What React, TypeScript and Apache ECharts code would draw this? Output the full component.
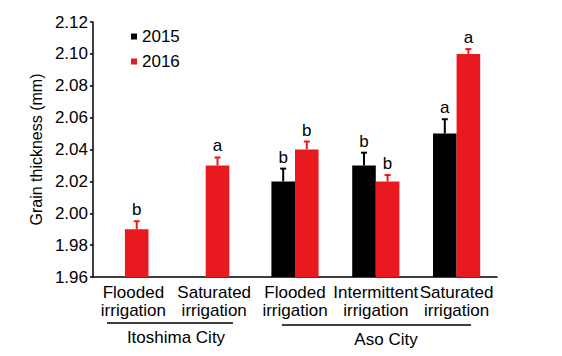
import React, { useEffect, useRef } from "react";
import * as echarts from "echarts";

const categories = [
  "Flooded\nirrigation",
  "Saturated\nirrigation",
  "Flooded\nirrigation",
  "Intermittent\nirrigation",
  "Saturated\nirrigation",
];
const values2015: (number | null)[] = [null, null, 2.02, 2.03, 2.05];
const errors2015: (number | null)[] = [null, null, 0.008, 0.008, 0.009];
const letters2015: (string | null)[] = [null, null, "b", "b", "a"];
const values2016 = [1.99, 2.03, 2.04, 2.02, 2.1];
const errors2016 = [0.005, 0.005, 0.005, 0.004, 0.003];
const letters2016 = ["b", "a", "b", "b", "a"];
const yTicks = { min: 1.96, max: 2.12, interval: 0.02 };

const FONT = "'Liberation Sans', Arial, sans-serif";
const RED = "#e8191f";
const BLACK = "#000000";

function makeRender(color: string, isFirst: boolean) {
  return (params: any, api: any) => {
    const idx = api.value(0);
    const v = api.value(1);
    const e = api.value(2);
    const letter = isFirst ? letters2015[idx] : letters2016[idx];
    const base = api.coord([idx, yTicks.min]);
    const top = api.coord([idx, v]);
    const errTop = api.coord([idx, v + e]);
    const bw = api.size([1, 0])[0];
    const barW = bw * 0.292;
    let left: number;
    if (isFirst) left = base[0] - barW;
    else if (values2015[idx] == null) left = base[0] - bw * 0.105;
    else left = base[0];
    const cx = left + barW / 2;
    return {
      type: "group",
      children: [
        {
          type: "rect",
          shape: { x: left, y: top[1], width: barW, height: base[1] - top[1] },
          style: { fill: color },
        },
        {
          type: "line",
          shape: { x1: cx, y1: top[1], x2: cx, y2: errTop[1] },
          style: { stroke: color, lineWidth: 2 },
        },
        {
          type: "line",
          shape: { x1: cx - 3, y1: errTop[1], x2: cx + 3, y2: errTop[1] },
          style: { stroke: color, lineWidth: 2 },
        },
        {
          type: "text",
          style: {
            text: letter || "",
            x: cx,
            y: errTop[1] - 3,
            align: "center",
            verticalAlign: "bottom",
            fontSize: 17,
            fontFamily: FONT,
            fill: "#000",
          },
        },
      ],
    };
  };
}

export default function App() {
  const ref = useRef<HTMLDivElement>(null);
  useEffect(() => {
    document.body.style.margin = "0";
    if (!ref.current) return;
    const chart = echarts.init(ref.current, undefined, { renderer: "svg" });
    const data2015: any[] = [];
    values2015.forEach((v, i) => {
      if (v != null) data2015.push([i, v, errors2015[i]]);
    });
    const data2016 = values2016.map((v, i) => [i, v, errors2016[i]]);
    chart.setOption({
      animation: false,
      textStyle: { fontFamily: FONT },
      grid: { left: 93, right: 65, top: 22, bottom: 79 },
      legend: {
        data: ["2015", "2016"],
        orient: "vertical",
        left: 131,
        top: 28,
        padding: 0,
        itemWidth: 6,
        itemHeight: 6,
        itemGap: 8,
        icon: "rect",
        textStyle: { fontSize: 17, color: "#000", fontFamily: FONT },
      },
      xAxis: {
        type: "category",
        data: categories,
        axisLine: { lineStyle: { color: "#000", width: 1.5 } },
        axisTick: { inside: true, length: 4, alignWithLabel: false, lineStyle: { color: "#000", width: 1.5 } },
        axisLabel: {
          interval: 0,
          fontSize: 17,
          lineHeight: 18,
          margin: 6,
          color: "#000",
          fontFamily: FONT,
        },
      },
      yAxis: {
        type: "value",
        min: yTicks.min,
        max: yTicks.max,
        interval: yTicks.interval,
        name: "Grain thickness (mm)",
        nameLocation: "middle",
        nameGap: 48,
        nameTextStyle: { fontSize: 16, color: "#000", fontFamily: FONT },
        splitLine: { show: false },
        axisLine: { show: true, lineStyle: { color: "#000", width: 1.5 } },
        axisTick: { show: true, length: 3, lineStyle: { color: "#000", width: 1.5 } },
        axisLabel: {
          fontSize: 17,
          margin: 5,
          color: "#000",
          fontFamily: FONT,
          formatter: (v: number) => v.toFixed(2),
        },
      },
      series: [
        {
          name: "2015",
          type: "custom",
          itemStyle: { color: BLACK },
          renderItem: makeRender(BLACK, true),
          encode: { x: 0, y: 1 },
          data: data2015,
        },
        {
          name: "2016",
          type: "custom",
          itemStyle: { color: RED },
          renderItem: makeRender(RED, false),
          encode: { x: 0, y: 1 },
          data: data2016,
        },
      ],
      graphic: [
        { type: "line", shape: { x1: 107, y1: 323, x2: 233, y2: 323 }, style: { stroke: "#000", lineWidth: 1.5 } },
        {
          type: "text",
          x: 176,
          y: 337,
          style: { text: "Itoshima City", align: "center", verticalAlign: "middle", fontSize: 17, fontFamily: FONT, fill: "#000" },
        },
        { type: "line", shape: { x1: 282, y1: 325, x2: 471, y2: 325 }, style: { stroke: "#000", lineWidth: 1.5 } },
        {
          type: "text",
          x: 386,
          y: 339,
          style: { text: "Aso City", align: "center", verticalAlign: "middle", fontSize: 17, fontFamily: FONT, fill: "#000" },
        },
      ],
    });
    return () => chart.dispose();
  }, []);
  return <div ref={ref} style={{ width: 562, height: 356 }} />;
}
